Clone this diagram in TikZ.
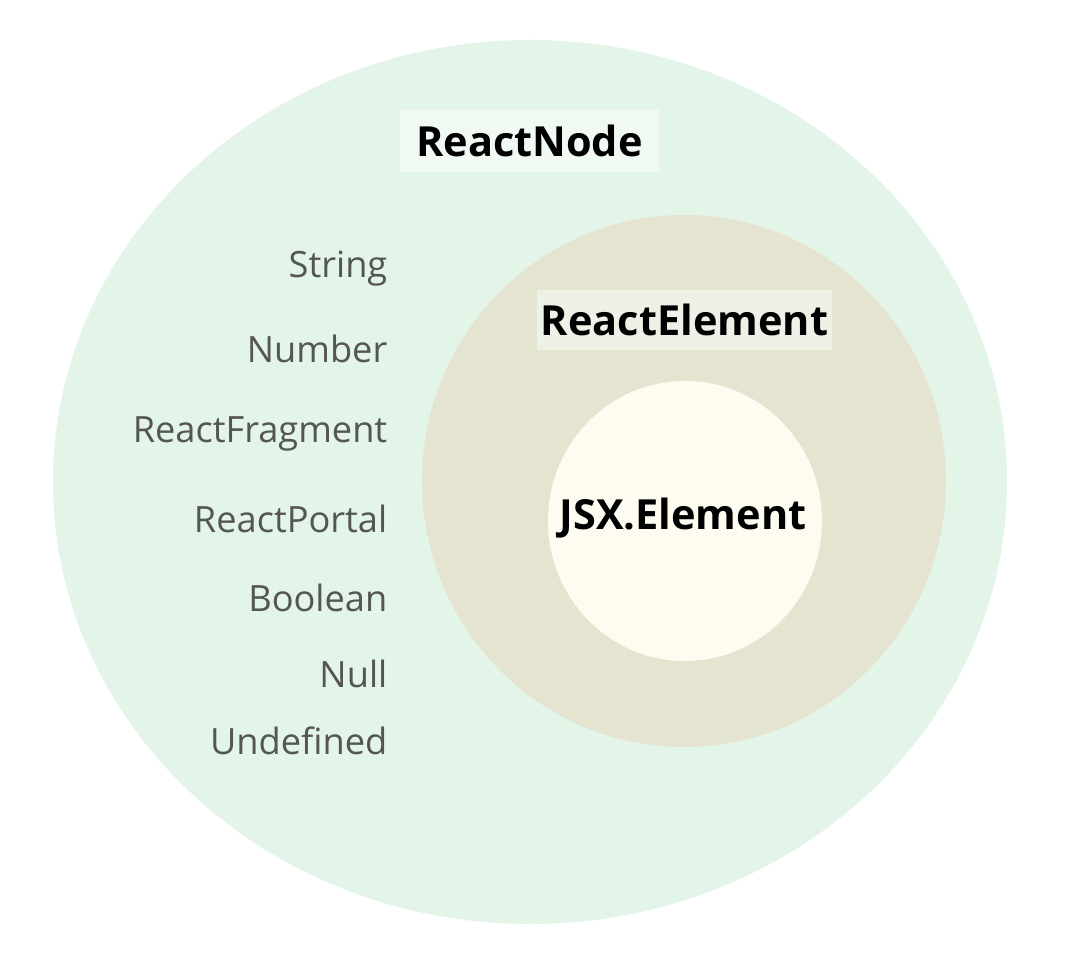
\documentclass[tikz,border=0pt]{standalone}
\usepackage{fontspec}
\setmainfont{Open Sans}
\definecolor{nodegreen}{HTML}{E2F5E8}
\definecolor{nodebox}{HTML}{F0F9F2}
\definecolor{elemtan}{HTML}{E5E4D1}
\definecolor{elembox}{HTML}{EEF1E6}
\definecolor{jsxcream}{HTML}{FEFCF0}
\definecolor{typegray}{HTML}{555555}
\tikzset{
  title/.style={font=\bfseries\fontsize{11.8}{14}\selectfont, text=black, inner sep=0pt},
  kind/.style={font=\fontsize{10.3}{12}\selectfont, text=typegray, anchor=east, inner sep=0pt},
}
\begin{document}
\begin{tikzpicture}
    \useasboundingbox[fill=white] (0,0) rectangle (10.8,9.61);

    \fill[nodegreen] (5.30,4.79) ellipse [x radius=4.77, y radius=4.42];
    \fill[elemtan] (6.84,4.80) ellipse [x radius=2.62, y radius=2.66];
    \fill[jsxcream] (6.85,4.40) ellipse [x radius=1.37, y radius=1.40];

    \node[fill=nodebox, minimum width=2.59cm, minimum height=0.62cm, inner sep=0pt] (nodebg) at (5.295,8.20) {};
    \node[title] (reactnode) at (nodebg) {ReactNode};
    \node[fill=elembox, minimum width=2.95cm, minimum height=0.60cm, inner sep=0pt] (elembg) at (6.845,6.41) {};
    \node[title] (reactelement) at (elembg) {ReactElement};
    \node[title] (jsx) at (6.83,4.43) {JSX.Element};

    \foreach \y/\t [count=\i] in {6.92/String, 6.12/Number, 5.27/ReactFragment,
        4.42/ReactPortal, 3.63/Boolean, 2.87/Null, 2.20/Undefined} {
      \node[kind] (type\i) at (3.88,\y) {\t};
    }
  \end{tikzpicture}
\end{document}
